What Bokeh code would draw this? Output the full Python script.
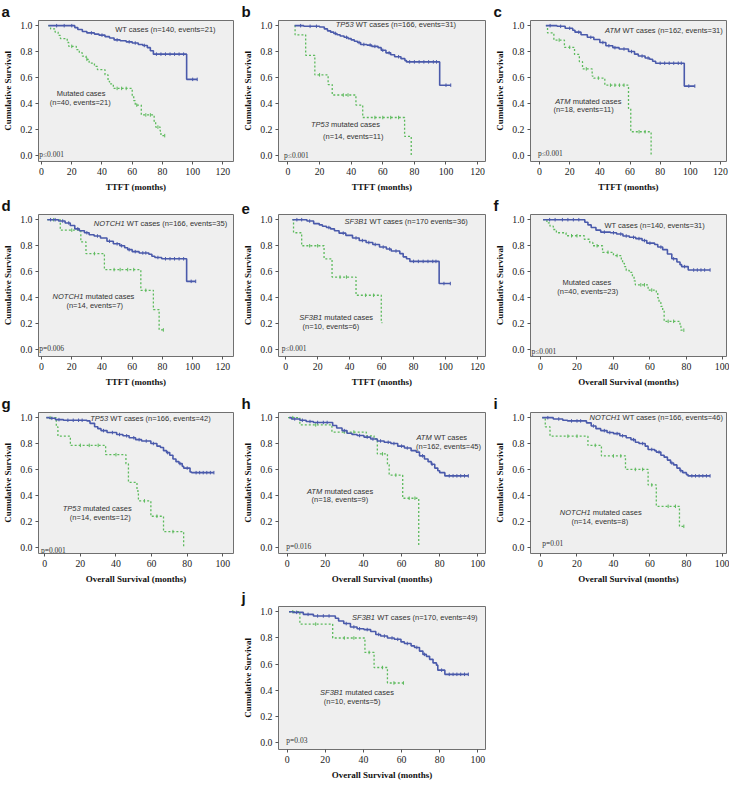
import numpy as np
from bokeh.plotting import figure
from bokeh.layouts import column, row
from bokeh.models import FixedTicker, PrintfTickFormatter, Spacer
from bokeh.core.properties import value
from bokeh.embed import file_html
from bokeh.resources import INLINE

# ------------------------------------------------------------------ data
# step curves: times at which survival changes, survival after that time,
# end of follow-up, censoring times
a_wt_time = [4.5, 22, 24, 27, 30, 35, 38, 42, 45, 48, 52, 56, 60, 64, 67, 70, 72, 74, 96]
a_wt_surv = [1.0, 0.985, 0.97, 0.955, 0.944, 0.935, 0.927, 0.915, 0.905, 0.89, 0.883, 0.875, 0.866, 0.855, 0.847, 0.83, 0.806, 0.78, 0.585]
a_wt_end = 103
a_wt_cens = [10, 15, 20, 33, 40, 50, 58, 62, 68, 76, 79, 82, 85, 88, 91, 94, 100, 103]
a_mut_time = [4.5, 6, 9, 11, 12.5, 17, 18, 23, 25, 27, 29.5, 31.5, 35, 37, 42, 44, 45, 47.5, 60, 61, 62, 66, 74.5, 75.5, 78.5, 79]
a_mut_surv = [1.0, 0.975, 0.95, 0.925, 0.9, 0.87, 0.84, 0.815, 0.79, 0.765, 0.74, 0.71, 0.685, 0.66, 0.62, 0.57, 0.55, 0.515, 0.46, 0.42, 0.386, 0.31, 0.26, 0.216, 0.185, 0.15]
a_mut_end = 81.5
a_mut_cens = [20, 30, 50, 53, 56, 63, 69, 72, 77, 81.5]

b_wt_time = [4.2, 10, 20, 23, 25, 27, 29, 31, 33, 35.5, 38, 40, 42, 44, 46, 50, 53, 57, 59, 62, 65, 67.5, 71.5, 74, 75, 96]
b_wt_surv = [1.0, 0.995, 0.99, 0.975, 0.96, 0.95, 0.94, 0.93, 0.92, 0.91, 0.9, 0.89, 0.88, 0.87, 0.855, 0.85, 0.84, 0.83, 0.81, 0.79, 0.775, 0.76, 0.745, 0.73, 0.72, 0.54]
b_wt_end = 103
b_wt_cens = [8, 14, 18, 30, 37, 45, 48, 52, 55, 60, 64, 70, 77, 80, 83, 86, 89, 92, 94, 100, 103]
b_mut_time = [4.2, 4.5, 11.2, 17, 25.4, 28, 43, 47.3, 73.8, 78]
b_mut_surv = [1.0, 0.929, 0.771, 0.62, 0.545, 0.464, 0.386, 0.29, 0.145, 0.0]
b_mut_end = 78
b_mut_cens = [20, 35, 38, 55, 60, 65, 70]

c_wt_time = [4.2, 11.6, 17, 22, 23.5, 27.5, 31.7, 36, 40, 44, 48.6, 52.8, 59, 63, 65.5, 70, 73, 75, 77, 96]
c_wt_surv = [1.0, 0.995, 0.98, 0.965, 0.95, 0.93, 0.91, 0.893, 0.87, 0.845, 0.83, 0.82, 0.8, 0.78, 0.765, 0.75, 0.74, 0.725, 0.71, 0.533]
c_wt_end = 103
c_wt_cens = [7, 14, 20, 26, 34, 42, 46, 50, 56, 61, 68, 72, 80, 83, 86, 89, 92, 94, 99, 103]
c_mut_time = [4.2, 5.3, 9.5, 16.5, 23.2, 26.4, 28.5, 34.9, 35.9, 43.3, 59, 60.5, 74]
c_mut_surv = [1.0, 0.944, 0.889, 0.833, 0.778, 0.722, 0.666, 0.61, 0.595, 0.54, 0.36, 0.18, 0.0]
c_mut_end = 74
c_mut_cens = [13, 20, 31, 39, 47, 50, 53, 56, 66, 70]

d_wt_time = [3.8, 11.3, 15.6, 19, 22, 25, 28.4, 31.5, 34.8, 39, 43.3, 47.5, 51.8, 55, 57, 60, 64.6, 71, 73, 75, 79.5, 96]
d_wt_surv = [1.0, 0.99, 0.975, 0.955, 0.93, 0.915, 0.9, 0.885, 0.875, 0.86, 0.835, 0.815, 0.8, 0.785, 0.77, 0.755, 0.745, 0.735, 0.72, 0.71, 0.70, 0.527]
d_wt_end = 102
d_wt_cens = [6, 9, 14, 18, 24, 30, 37, 45, 50, 53, 58, 62, 67, 69, 77, 82, 85, 88, 91, 94, 99, 102]
d_mut_time = [3.8, 12.4, 26, 29.4, 41.6, 65.7, 74, 77.8]
d_mut_surv = [1.0, 0.92, 0.83, 0.74, 0.617, 0.458, 0.31, 0.154]
d_mut_end = 80.6
d_mut_cens = [8, 20, 35, 48, 52, 57, 61, 69, 80.6]

e_wt_time = [4.2, 13.3, 17.5, 21, 23, 25.5, 28, 30.5, 33.4, 37.6, 41.8, 46, 50.3, 54.5, 58.7, 63, 66, 71.4, 73.5, 75.6, 77.7, 96]
e_wt_surv = [1.0, 0.99, 0.97, 0.96, 0.95, 0.94, 0.93, 0.915, 0.897, 0.88, 0.86, 0.84, 0.825, 0.81, 0.79, 0.775, 0.76, 0.74, 0.715, 0.70, 0.68, 0.51]
e_wt_end = 103
e_wt_cens = [7, 10, 15, 27, 36, 44, 48, 52, 56, 61, 65, 69, 80, 83, 86, 89, 92, 94, 99, 103]
e_mut_time = [4.2, 4.9, 10, 24, 29, 44, 59.8]
e_mut_surv = [1.0, 0.9, 0.8, 0.7, 0.56, 0.42, 0.21]
e_mut_end = 60.5
e_mut_cens = [15, 20, 34, 38, 50, 55]

f_wt_time = [1.4, 24.3, 26, 27.8, 30.4, 33, 38.3, 41.7, 45.2, 48.7, 52.2, 55.7, 58.3, 62.6, 64.3, 67, 69.6, 72, 74.8, 76.5, 77.4, 81]
f_wt_surv = [1.0, 0.98, 0.96, 0.94, 0.92, 0.905, 0.9, 0.89, 0.875, 0.865, 0.855, 0.84, 0.82, 0.81, 0.79, 0.77, 0.737, 0.70, 0.675, 0.655, 0.64, 0.614]
f_wt_end = 93
f_wt_cens = [5, 8, 12, 15, 18, 21, 35, 40, 44, 47, 51, 54, 57, 60, 66, 73, 79, 84, 86, 88, 90, 93]
f_mut_time = [1.4, 3.5, 5.2, 7, 8.7, 14, 24, 27, 28.7, 34, 40, 44.3, 45, 46, 47, 48.7, 50.4, 51.3, 52, 59, 63.5, 64.3, 65, 66, 67, 67.8, 76.5, 77]
f_mut_surv = [1.0, 0.975, 0.95, 0.925, 0.9, 0.877, 0.85, 0.825, 0.8, 0.75, 0.725, 0.69, 0.665, 0.64, 0.61, 0.595, 0.565, 0.53, 0.5, 0.46, 0.44, 0.4, 0.366, 0.335, 0.305, 0.22, 0.19, 0.152]
f_mut_end = 78.6
f_mut_cens = [17, 20, 31, 37, 42, 55, 57, 61, 70, 73, 78.6]

g_wt_time = [0.9, 2.6, 6, 10.5, 23.7, 25.4, 28, 29.8, 31.6, 35, 40.4, 43.9, 47.4, 51, 54.4, 59.6, 63, 65, 66.7, 68.4, 70.2, 72, 73.7, 75.4, 77.2, 78, 81.6, 82.5]
g_wt_surv = [1.0, 0.995, 0.985, 0.98, 0.975, 0.956, 0.93, 0.915, 0.9, 0.885, 0.87, 0.86, 0.845, 0.83, 0.82, 0.8, 0.78, 0.77, 0.745, 0.73, 0.71, 0.68, 0.66, 0.645, 0.625, 0.61, 0.58, 0.575]
g_wt_end = 95
g_wt_cens = [4, 8, 13, 16, 19, 21, 33, 38, 42, 46, 50, 53, 57, 61, 69, 76, 80, 85, 87, 89, 91, 93, 95]
g_mut_time = [0.9, 6.5, 7.4, 14.4, 34.2, 45.6, 47, 51.8, 52.6, 59.6, 66.7, 78]
g_mut_surv = [1.0, 0.929, 0.857, 0.786, 0.714, 0.643, 0.5, 0.433, 0.357, 0.238, 0.119, 0.0]
g_mut_end = 78
g_mut_cens = [3, 20, 25, 30, 40, 56, 63, 72]

h_wt_time = [1.1, 2.3, 6.7, 10, 13.8, 23.9, 26, 28.8, 31.4, 34, 36.7, 40.3, 43.8, 47.3, 50.9, 54.4, 58, 61.5, 65, 67.7, 69.4, 72, 73.9, 75.6, 77.4, 79, 80, 82.7]
h_wt_surv = [1.0, 0.99, 0.98, 0.97, 0.963, 0.94, 0.92, 0.9, 0.88, 0.87, 0.862, 0.85, 0.835, 0.82, 0.81, 0.8, 0.78, 0.766, 0.745, 0.734, 0.705, 0.68, 0.66, 0.64, 0.61, 0.59, 0.575, 0.55]
h_wt_end = 95
h_wt_cens = [4, 8, 12, 16, 19, 21, 30, 38, 42, 45, 49, 53, 56, 60, 63, 71, 76, 85, 87, 89, 91, 93, 95]
h_mut_time = [0.5, 6.7, 23.5, 41.5, 45.6, 47.3, 52.6, 53.5, 60.6, 69]
h_mut_surv = [1.0, 0.944, 0.889, 0.86, 0.837, 0.72, 0.636, 0.556, 0.377, 0.0]
h_mut_end = 69
h_mut_cens = [3, 15, 30, 35, 50, 57, 64, 67]

i_wt_time = [0.9, 7, 12.2, 14.8, 25.2, 27.8, 30.4, 33, 36.5, 40, 43.5, 47, 49.6, 52, 54, 57.4, 59, 62.6, 63.5, 66, 67.8, 69.6, 71.3, 73, 74.8, 76.5, 78, 80, 80.9]
i_wt_surv = [1.0, 0.99, 0.98, 0.975, 0.96, 0.936, 0.915, 0.9, 0.885, 0.877, 0.86, 0.845, 0.83, 0.81, 0.8, 0.78, 0.754, 0.745, 0.734, 0.71, 0.695, 0.672, 0.65, 0.635, 0.61, 0.59, 0.575, 0.56, 0.55]
i_wt_end = 93
i_wt_cens = [4, 10, 17, 20, 22, 29, 35, 38, 42, 45, 51, 56, 61, 65, 72, 77, 83, 85, 87, 89, 91, 93]
i_mut_time = [0.9, 2.6, 5.2, 26, 33.4, 46.6, 59, 63.5, 76.2]
i_mut_surv = [1.0, 0.929, 0.857, 0.786, 0.704, 0.6, 0.48, 0.315, 0.16]
i_mut_end = 78.6
i_mut_cens = [15, 20, 30, 40, 44, 52, 56, 61, 70, 74, 78.6]

j_wt_time = [1, 3.2, 8.5, 13.8, 25.3, 27, 29.7, 33.2, 36.7, 40.3, 43.8, 46.5, 49, 52.6, 56.2, 59.7, 61.5, 65, 66.8, 69.4, 71.2, 73, 74.7, 76.5, 78.3, 79, 82.7]
j_wt_surv = [1.0, 0.995, 0.98, 0.968, 0.95, 0.93, 0.91, 0.884, 0.87, 0.864, 0.85, 0.827, 0.815, 0.8, 0.79, 0.77, 0.758, 0.74, 0.728, 0.7, 0.675, 0.66, 0.637, 0.61, 0.593, 0.555, 0.523]
j_wt_end = 95
j_wt_cens = [5, 11, 16, 19, 22, 31, 35, 38, 42, 48, 51, 55, 58, 63, 68, 72, 81, 85, 87, 89, 91, 93, 95]
j_mut_time = [1, 6.7, 23.9, 40.8, 45.6, 52.6]
j_mut_surv = [1.0, 0.906, 0.8, 0.69, 0.575, 0.457]
j_mut_end = 61
j_mut_cens = [3, 15, 30, 35, 43, 50, 56, 61]

y_ticks = [0.0, 0.2, 0.4, 0.6, 0.8, 1.0]
ttft_ticks = [0, 20, 40, 60, 80, 100, 120]
os_ticks = [0, 20, 40, 60, 80, 100]
ylabel = "Cumulative Survival"
ttft_label = "TTFT (months)"
os_label = "Overall Survival (months)"

p_values = {"a": "p\u22640.001", "b": "p\u22640.001", "c": "p\u22640.001", "d": "p=0.006",
            "e": "p\u22640.001", "f": "p\u22640.001", "g": "p=0.001", "h": "p=0.016",
            "i": "p=0.01", "j": "p=0.03"}

# annotation texts: (italic gene name or None, plain text)
notes_text = {
    "a": [(None, "WT cases (n=140, events=21)"), (None, "Mutated cases"), (None, "(n=40, events=21)")],
    "b": [("TP53", "WT cases (n=166, events=31)"), ("TP53", "mutated cases"), (None, "(n=14, events=11)")],
    "c": [("ATM", "WT cases (n=162, events=31)"), ("ATM", "mutated cases"), (None, "(n=18, events=11)")],
    "d": [("NOTCH1", "WT cases (n=166, events=35)"), ("NOTCH1", "mutated cases"), (None, "(n=14, events=7)")],
    "e": [("SF3B1", "WT cases (n=170 events=36)"), ("SF3B1", "mutated cases"), (None, "(n=10, events=6)")],
    "f": [(None, "WT cases (n=140, events=31)"), (None, "Mutated cases"), (None, "(n=40, events=23)")],
    "g": [("TP53", "WT cases (n=166, events=42)"), ("TP53", "mutated cases"), (None, "(n=14, events=12)")],
    "h": [("ATM", "WT cases"), (None, "(n=162, events=45)"), ("ATM", "mutated cases"), (None, "(n=18, events=9)")],
    "i": [("NOTCH1", "WT cases (n=166, events=46)"), ("NOTCH1", "mutated cases"), (None, "(n=14, events=8)")],
    "j": [("SF3B1", "WT cases (n=170, events=49)"), ("SF3B1", "mutated cases"), (None, "(n=10, events=5)")],
}

# ------------------------------------------------------------------ layout / style
# annotation anchor positions (x, y) in axis units; for gene names the anchor
# is the junction between italic gene name and plain text, otherwise text centre
notes_pos = {
    "a": [(82, 0.968), (26.2, 0.473), (25.6, 0.405)],
    "b": [(41.5, 1.01), (25.9, 0.233), (41.3, 0.145)],
    "c": [(53.5, 0.963), (20.5, 0.415), (29.2, 0.349)],
    "d": [(55, 0.968), (27.7, 0.41), (35.2, 0.343)],
    "e": [(51.1, 0.988), (22.8, 0.25), (28.3, 0.18)],
    "f": [(62.6, 0.958), (25.4, 0.516), (25.9, 0.447)],
    "g": [(35.6, 0.99), (20.2, 0.298), (31.2, 0.23)],
    "h": [(75.8, 0.845), (84.6, 0.778), (18.4, 0.433), (27.7, 0.365)],
    "i": [(43.8, 1.0), (27.5, 0.266), (32.5, 0.197)],
    "j": [(46.1, 0.956), (29.3, 0.383), (34.1, 0.314)],
}
pval_pos = {"a": (-1.5, 0.005), "b": (-2.5, 0.0), "c": (-1.1, 0.01), "d": (-1.5, 0.012),
            "e": (-2.5, 0.01), "f": (-5.0, -0.012), "g": (-2.1, -0.025), "h": (-0.4, 0.007),
            "i": (0.9, 0.03), "j": (-0.4, 0.017)}
xranges = {"a": (-2, 127), "b": (-6, 125), "c": (-6, 124), "d": (-2, 127), "e": (-4.5, 125),
           "f": (-5.5, 102), "g": (-3.5, 106), "h": (-4.5, 104), "i": (-5.5, 102), "j": (-4.5, 104)}

COL_W = [237, 250, 242]
COL_MB = [(31, 4), (41, 2), (43, 3)]          # min_border left, right
ROW_H = [194, 198, 194, 196]
ROW_MB = [(0, 32), (0, 36), (0, 32), (4, 32)]  # min_border top, bottom

WT_COLOR = "#4a5aab"
MUT_COLOR = "#5cba5c"
BG = "#efefef"
SANS = value("Liberation Sans")
SERIF = "Liberation Serif"


def draw_curve(p, t, s, end, cens, color, dash, lw):
    xs = list(t) + [end]
    ys = list(s) + [s[-1]]
    p.step(xs, ys, mode="after", line_color=color, line_width=lw, line_dash=dash)
    idx = np.searchsorted(np.array(t), np.array(cens), side="right") - 1
    cy = np.array(s)[idx]
    p.scatter(cens, cy, marker="dash", angle=np.pi / 2, size=3.5,
              line_color=color, line_width=1)


def panel(letter, ci, ri, kind):
    g = globals()
    xr = xranges[letter]
    p = figure(width=COL_W[ci], height=ROW_H[ri], x_range=xr, y_range=(-0.05, 1.04),
               output_backend="svg", toolbar_location=None,
               min_border_left=COL_MB[ci][0], min_border_right=COL_MB[ci][1],
               min_border_top=ROW_MB[ri][0], min_border_bottom=ROW_MB[ri][1])
    p.title.text = letter
    p.title.align = "left"
    p.title.offset = -37
    p.title.standoff = 1
    p.title.text_font = "Liberation Sans"
    p.title.text_font_style = "bold"
    p.title.text_font_size = "15px"
    p.title.text_color = "#111111"

    p.background_fill_color = BG
    p.border_fill_color = "white"
    p.outline_line_color = "#707070"
    p.outline_line_width = 1
    p.grid.visible = False

    p.xaxis.ticker = FixedTicker(ticks=ttft_ticks if kind == "ttft" else os_ticks)
    p.yaxis.ticker = FixedTicker(ticks=y_ticks)
    p.yaxis.formatter = PrintfTickFormatter(format="%.1f")
    p.xaxis.axis_label = ttft_label if kind == "ttft" else os_label
    p.yaxis.axis_label = ylabel
    for ax in (p.xaxis[0], p.yaxis[0]):
        ax.axis_line_color = None
        ax.major_tick_line_color = "#555555"
        ax.major_tick_out = 3
        ax.major_tick_in = 0
        ax.minor_tick_line_color = None
        ax.major_label_text_font = SERIF
        ax.major_label_text_font_size = "9.8px"
        ax.major_label_text_color = "#222222"
        ax.major_label_standoff = 3
        ax.axis_label_text_font = SERIF
        ax.axis_label_text_font_style = "bold"
        ax.axis_label_text_font_size = "9px"
        ax.axis_label_text_color = "#111111"
        ax.axis_label_standoff = 4

    draw_curve(p, g[f"{letter}_mut_time"], g[f"{letter}_mut_surv"], g[f"{letter}_mut_end"],
               g[f"{letter}_mut_cens"], MUT_COLOR, "2 2", 1.3)
    draw_curve(p, g[f"{letter}_wt_time"], g[f"{letter}_wt_surv"], g[f"{letter}_wt_end"],
               g[f"{letter}_wt_cens"], WT_COLOR, "solid", 1.6)

    for (gene, txt), (x, y) in zip(notes_text[letter], notes_pos[letter]):
        common = dict(text_baseline="middle", text_font=SANS, text_font_size="7.5px",
                      text_color="#333333")
        if gene is None:
            p.text(x=[x], y=[y], text=[txt], text_align="center", **common)
        else:
            p.text(x=[x], y=[y], text=[gene], text_align="right",
                   text_font_style="italic", **common)
            p.text(x=[x], y=[y], text=[txt], text_align="left", x_offset=2.2, **common)

    px, py = pval_pos[letter]
    p.text(x=[px], y=[py], text=[p_values[letter]], text_align="left", text_baseline="middle",
           text_font=value(SERIF), text_font_size="7.5px", text_color="#333333")
    return p


pa = panel("a", 0, 0, "ttft")
pb = panel("b", 1, 0, "ttft")
pc = panel("c", 2, 0, "ttft")
pd_ = panel("d", 0, 1, "ttft")
pe = panel("e", 1, 1, "ttft")
pf = panel("f", 2, 1, "os")
pg = panel("g", 0, 2, "os")
ph = panel("h", 1, 2, "os")
pi_ = panel("i", 2, 2, "os")
pj = panel("j", 1, 3, "os")

layout = column(
    row(pa, pb, pc),
    row(pd_, pe, pf),
    row(pg, ph, pi_),
    row(Spacer(width=COL_W[0], height=ROW_H[3]), pj),
)

open("out.html", "w").write(file_html(layout, INLINE))
